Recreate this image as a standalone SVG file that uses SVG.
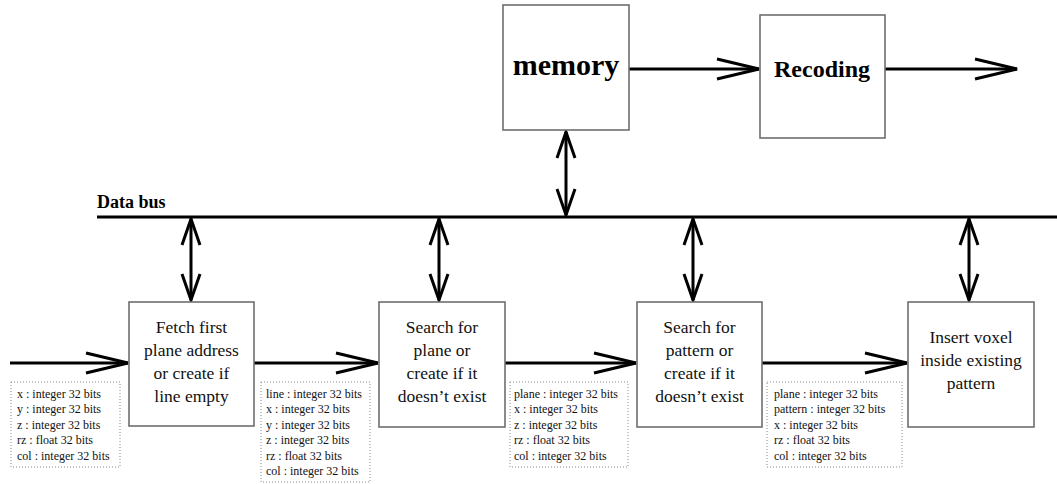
<svg xmlns="http://www.w3.org/2000/svg" width="1057" height="484" viewBox="0 0 1057 484">
<style>
.box{fill:#fff;stroke:#6e6e6e;stroke-width:1.6}
.dbox{fill:none;stroke:#8a8a8a;stroke-width:1;stroke-dasharray:1 2}
.ln{fill:none;stroke:#000;stroke-width:3}
.t{font-family:"Liberation Serif",serif;font-size:17.5px;fill:#111;text-anchor:middle}
.big{font-family:"Liberation Serif",serif;font-weight:bold;fill:#000;text-anchor:middle}
.s{font-family:"Liberation Serif",serif;font-size:12px;fill:#111}
</style>
<defs>
<marker id="ah" markerUnits="userSpaceOnUse" viewBox="-44 -12 46 24" refX="0" refY="0" markerWidth="46" markerHeight="24" orient="auto-start-reverse">
<path d="M-42,-10 L0,0 L-42,10" fill="none" stroke="#000" stroke-width="3"/>
</marker>
<marker id="av" markerUnits="userSpaceOnUse" viewBox="-28 -11 30 22" refX="0" refY="0" markerWidth="30" markerHeight="22" orient="auto-start-reverse">
<path d="M-26,-9 L0,0 L-26,9" fill="none" stroke="#000" stroke-width="3"/>
</marker>
</defs>
<rect width="1057" height="484" fill="#fff"/>
<g id="connectors">
<line class="ln" x1="97" y1="217" x2="1057" y2="217"/>
<line class="ln" x1="629" y1="69" x2="759" y2="69" marker-end="url(#ah)"/>
<line class="ln" x1="885" y1="69" x2="1017" y2="69" marker-end="url(#ah)"/>
<line class="ln" x1="566" y1="132" x2="566" y2="215" marker-start="url(#av)" marker-end="url(#av)"/>
<line class="ln" x1="191" y1="219" x2="191" y2="300" marker-start="url(#av)" marker-end="url(#av)"/>
<line class="ln" x1="439" y1="219" x2="439" y2="300" marker-start="url(#av)" marker-end="url(#av)"/>
<line class="ln" x1="693" y1="219" x2="693" y2="300" marker-start="url(#av)" marker-end="url(#av)"/>
<line class="ln" x1="969" y1="219" x2="969" y2="300" marker-start="url(#av)" marker-end="url(#av)"/>
<line class="ln" x1="10" y1="363" x2="128" y2="363" marker-end="url(#ah)"/>
<line class="ln" x1="254" y1="363" x2="378" y2="363" marker-end="url(#ah)"/>
<line class="ln" x1="505" y1="363" x2="636" y2="363" marker-end="url(#ah)"/>
<line class="ln" x1="762" y1="363" x2="907" y2="363" marker-end="url(#ah)"/>
</g>
<g id="databus-label"><text class="big" x="97" y="208" style="font-size:18px;text-anchor:start">Data bus</text></g>
<g id="memory">
<rect class="box" x="503" y="5" width="126" height="125"/>
<text class="big" x="566" y="75" style="font-size:30px">memory</text>
</g>
<g id="recoding">
<rect class="box" x="760" y="15" width="125" height="123"/>
<text class="big" x="822" y="77" style="font-size:24px">Recoding</text>
</g>
<g id="fetch">
<rect class="box" x="129" y="302" width="125" height="124"/>
<text class="t" x="191.5" y="333">Fetch first</text>
<text class="t" x="191.5" y="356">plane address</text>
<text class="t" x="191.5" y="379">or create if</text>
<text class="t" x="191.5" y="402">line empty</text>
</g>
<g id="search-plane">
<rect class="box" x="379" y="302" width="126" height="125"/>
<text class="t" x="442" y="333">Search for</text>
<text class="t" x="442" y="356">plane or</text>
<text class="t" x="442" y="379">create if it</text>
<text class="t" x="442" y="402">doesn’t exist</text>
</g>
<g id="search-pattern">
<rect class="box" x="637" y="302" width="125" height="125"/>
<text class="t" x="699.5" y="333">Search for</text>
<text class="t" x="699.5" y="356">pattern or</text>
<text class="t" x="699.5" y="379">create if it</text>
<text class="t" x="699.5" y="402">doesn’t exist</text>
</g>
<g id="insert">
<rect class="box" x="908" y="302" width="126" height="125"/>
<text class="t" x="971" y="343">Insert voxel</text>
<text class="t" x="971" y="366">inside existing</text>
<text class="t" x="971" y="389">pattern</text>
</g>
<g id="data1">
<rect class="dbox" x="11" y="382" width="109" height="85"/>
<text class="s" x="17" y="397.5">x : integer 32 bits</text>
<text class="s" x="17" y="413">y : integer 32 bits</text>
<text class="s" x="17" y="428.5">z : integer 32 bits</text>
<text class="s" x="17" y="444">rz : float 32 bits</text>
<text class="s" x="17" y="459.5">col : integer 32 bits</text>
</g>
<g id="data2">
<rect class="dbox" x="261" y="382" width="109" height="100"/>
<text class="s" x="266" y="397.5">line : integer 32 bits</text>
<text class="s" x="266" y="413">x : integer 32 bits</text>
<text class="s" x="266" y="428.5">y : integer 32 bits</text>
<text class="s" x="266" y="444">z : integer 32 bits</text>
<text class="s" x="266" y="459.5">rz : float 32 bits</text>
<text class="s" x="266" y="475">col : integer 32 bits</text>
</g>
<g id="data3">
<rect class="dbox" x="510" y="382" width="118" height="85"/>
<text class="s" x="514" y="397.5">plane : integer 32 bits</text>
<text class="s" x="514" y="413">x : integer 32 bits</text>
<text class="s" x="514" y="428.5">z : integer 32 bits</text>
<text class="s" x="514" y="444">rz : float 32 bits</text>
<text class="s" x="514" y="459.5">col : integer 32 bits</text>
</g>
<g id="data4">
<rect class="dbox" x="767" y="382" width="135" height="85"/>
<text class="s" x="774" y="397.5">plane : integer 32 bits</text>
<text class="s" x="774" y="413">pattern : integer 32 bits</text>
<text class="s" x="774" y="428.5">x : integer 32 bits</text>
<text class="s" x="774" y="444">rz : float 32 bits</text>
<text class="s" x="774" y="459.5">col : integer 32 bits</text>
</g>
</svg>
